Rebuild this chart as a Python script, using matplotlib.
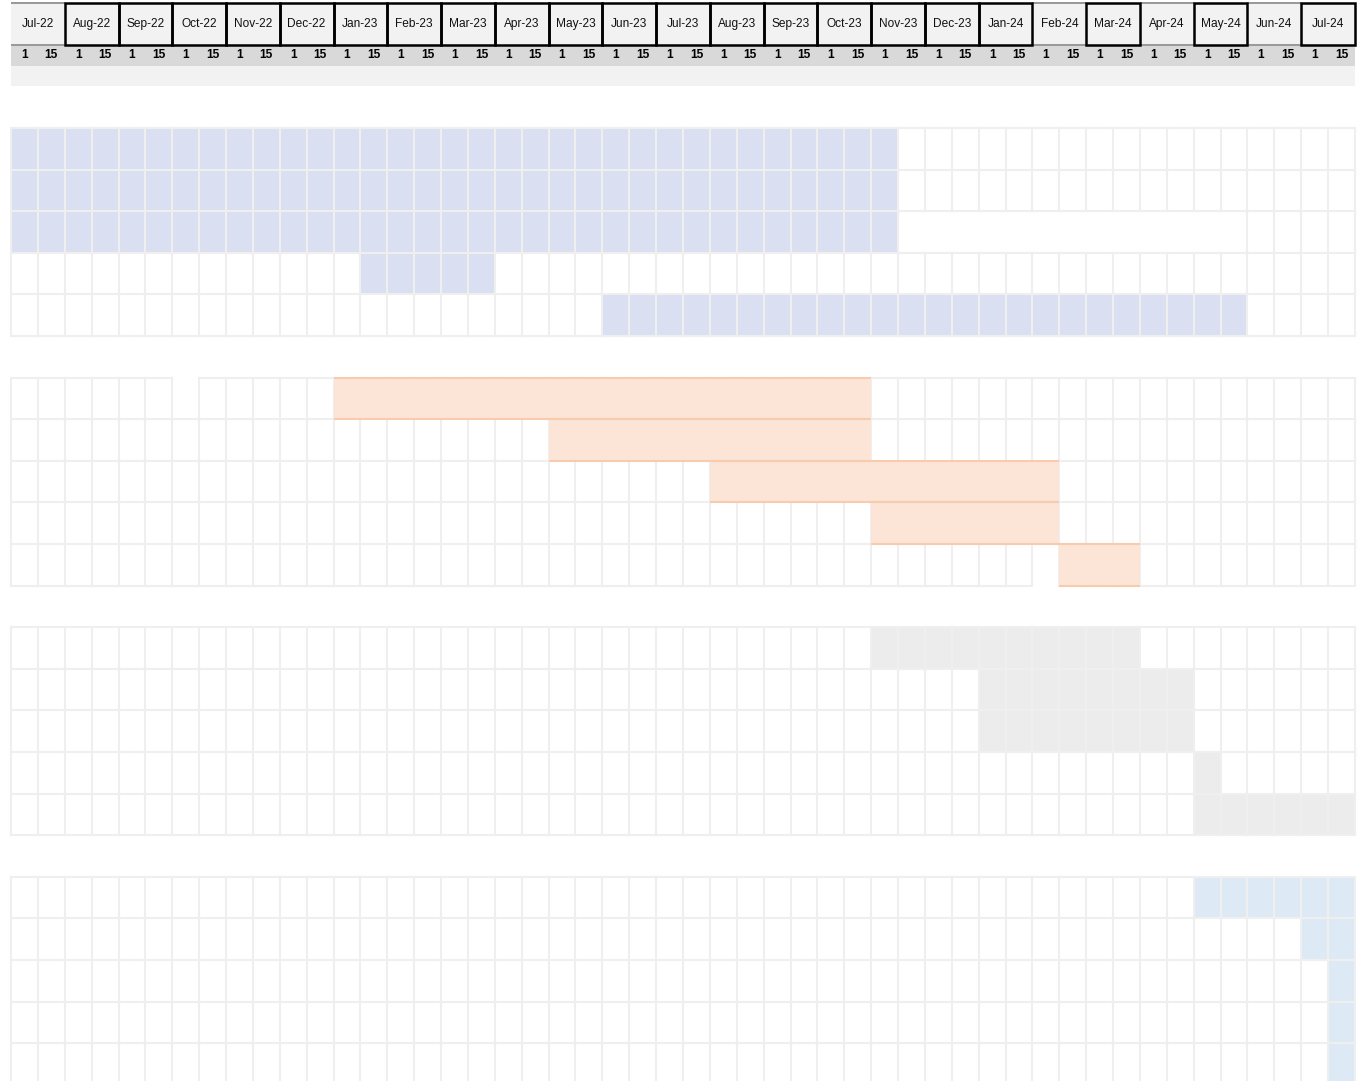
import matplotlib
matplotlib.use("Agg")
import matplotlib.pyplot as plt
from matplotlib.patches import Rectangle
from matplotlib.collections import LineCollection

# header data
months = ['Jul-22', 'Aug-22', 'Sep-22', 'Oct-22', 'Nov-22', 'Dec-22',
          'Jan-23', 'Feb-23', 'Mar-23', 'Apr-23', 'May-23', 'Jun-23',
          'Jul-23', 'Aug-23', 'Sep-23', 'Oct-23', 'Nov-23', 'Dec-23',
          'Jan-24', 'Feb-24', 'Mar-24', 'Apr-24', 'May-24', 'Jun-24', 'Jul-24']
half_labels = ['1', '15']
unboxed_months = ['Jul-22', 'Feb-24', 'Apr-24', 'Jun-24']

# task spans per row, in half-month columns (start, end)
plan_rows = [(0, 33), (0, 33), (0, 33), (13, 18), (22, 46)]
build_rows = [(12, 32), (20, 32), (26, 39), (32, 39), (39, 42)]
test_rows = [(32, 42), (36, 44), (36, 44), (44, 45), (44, 50)]
launch_rows = [(44, 50), (48, 50), (49, 50), (49, 50), (49, 50)]

sections = [
    (0, plan_rows, '#dae0f1'),
    (6, build_rows, '#fce4d6'),
    (12, test_rows, '#ececec'),
    (18, launch_rows, '#ddeaf6'),
]

NCOL = len(months) * 2
GRID = '#efefef'
LW = 1.45

fig = plt.figure(figsize=(13.66, 10.81), dpi=100)
ax = fig.add_axes([0, 0, 1, 1])
ax.set_xlim(-11 / 26.88, (1366 - 11) / 26.88)
ax.set_ylim((1081 - 128) / 41.6, -128 / 41.6)
ax.axis('off')
plt.rcParams['font.family'] = ['Liberation Sans', 'DejaVu Sans']

# header rows
ax.add_patch(Rectangle((0, -3), NCOL, 1, facecolor='#f2f2f2', edgecolor='none', zorder=1))
ax.add_patch(Rectangle((0, -2), NCOL, 0.5, facecolor='#d9d9d9', edgecolor='none', zorder=1))
ax.add_patch(Rectangle((0, -1.5), NCOL, 0.5, facecolor='#f2f2f2', edgecolor='none', zorder=1))

for m, name in enumerate(months):
    ax.text(2 * m + 1, -2.5, name, ha='center', va='center', fontsize=8.6, color='#111111', zorder=5)
    for h in range(2):
        ax.text(2 * m + h + 0.5, -1.75, half_labels[h], ha='center', va='center',
                fontsize=8.6, fontweight='bold', color='#000000', zorder=5)
    if name in unboxed_months:
        ax.plot([2 * m, 2 * m + 2], [-3, -3], color='#9a9a9a', lw=LW, zorder=3, solid_capstyle='butt')
        ax.plot([2 * m, 2 * m + 2], [-2, -2], color='#9a9a9a', lw=LW, zorder=3, solid_capstyle='butt')

for m, name in enumerate(months):
    if name not in unboxed_months:
        ax.add_patch(Rectangle((2 * m, -3), 2, 1, facecolor='none', edgecolor='black',
                               lw=1.8, zorder=4))

# grid + fills
for r0, rows, color in sections:
    segs = []
    for i, (s, e) in enumerate(rows):
        y = r0 + i
        if r0 == 6:
            continue
        ax.barh(y, e - s, left=s, height=1, align='edge', color=color, zorder=1)
    for i in range(5):
        y = r0 + i
        for b in range(NCOL + 1):
            # row 3 of first section has merged blank cells
            if r0 == 0 and i == 2 and 34 <= b <= 45:
                continue
            segs.append([(b, y), (b, y + 1)])
    for i in range(6):
        y = r0 + i
        for c in range(NCOL):
            if r0 == 6 and i == 0 and c == 6:
                continue
            if r0 == 6 and i == 5 and c == 38:
                continue
            segs.append([(c, y), (c + 1, y)])
    ax.add_collection(LineCollection(segs, colors=GRID, linewidths=LW, zorder=2,
                                     capstyle='projecting'))

# build phase: merged bars with orange top/bottom borders
for i, (s, e) in enumerate(build_rows):
    y = 6 + i
    ax.barh(y, e - s, left=s, height=1, align='edge', color='#fce4d6', zorder=3)
    ax.plot([s, e], [y, y], color='#f8cbad', lw=LW, zorder=4, solid_capstyle='butt')
    ax.plot([s, e], [y + 1, y + 1], color='#f8cbad', lw=LW, zorder=4, solid_capstyle='butt')

fig.savefig('out.png', dpi=100)
